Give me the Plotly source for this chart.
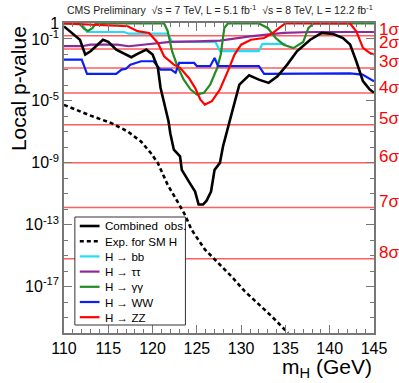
import numpy as np
import plotly.graph_objects as go

# local p-values, stored as log10(p)
mass_obs = [110, 110.9, 111.8, 112.4, 113.0, 114.4, 115.0, 115.9, 117.6, 118.3, 119.3, 120.0, 120.6, 120.9,
            121.4, 121.8, 122.0, 122.4, 123.1, 123.3, 124.05, 124.8, 125.2, 125.7, 126.1, 126.6, 127.0, 127.6,
            127.95, 128.7, 129.1, 129.8, 130.9, 132.0, 133.1, 134.1, 135.2, 136.3, 137.8, 139.1, 140.4, 141.5,
            142.3, 143.0, 143.75, 144.5, 145]
logp_obs = [-0.19, -0.61, -1.05, -2.01, -1.8, -1.05, -1.19, -1.69, -2.18, -1.96, -1.69, -2.01, -2.87, -4.15,
            -5.45, -6.32, -7.09, -8.16, -8.59, -9.46, -10.17, -10.86, -11.7, -11.7, -11.45, -10.86, -9.46, -9.01,
            -7.95, -6.23, -5.45, -3.95, -3.35, -3.63, -3.84, -3.41, -2.66, -1.8, -1.05, -0.61, -0.68, -0.94,
            -1.36, -2.44, -3.73, -4.26, -4.48]

mass_exp = [110, 112.75, 115.35, 117.2, 118.7, 119.8, 120.6, 121.7, 122.8, 123.6, 124.4, 125.9, 127.4, 128.9,
            130.4, 131.85, 133.5, 135.3]
logp_exp = [-5.26, -5.9, -6.44, -6.98, -7.63, -8.37, -9.02, -10.42, -11.5, -12.3, -13.32, -14.6, -15.47, -16.34,
            -17.3, -18.05, -18.95, -20.0]

mass_bb = [110, 112.0, 112.6, 116.8, 117.3, 121.7, 122.2, 127.1, 127.6, 132.0, 132.4, 135.0]
logp_bb = [0, 0, -0.55, -0.55, -0.66, -0.66, -1.19, -1.19, -1.79, -1.79, -1.32, -1.32]

mass_tt = [110, 112, 113, 116, 117.3, 120.2, 122, 125, 127.6, 131, 134.8, 138, 145]
logp_tt = [-1.47, -1.47, -1.37, -1.37, -1.47, -1.32, -1.19, -1.16, -1.11, -0.83, -0.61, -0.55, -0.55]

mass_gg = [110, 111.7, 112.3, 112.7, 113.2, 113.6, 121.3, 121.7, 122.2, 122.8, 123.5, 124.3, 125.0, 125.8,
           126.5, 127.3, 127.7, 128.1, 128.5, 132.0, 133.0, 133.9, 134.8, 135.9, 137.0, 137.6, 138.2, 145]
logp_gg = [0, 0, -0.35, -0.48, -0.3, 0, 0, -0.48, -1.79, -2.76, -3.62, -4.27, -4.59, -4.48,
           -3.95, -2.87, -2.01, -0.29, 0, 0, -0.29, -0.94, -1.37, -1.59, -1.2, -0.29, 0, 0]

mass_ww = [110, 112.0, 112.6, 115.9, 116.5, 117.0, 117.5, 118.7, 120.1, 120.9, 122.1, 122.6, 123.0, 124.7,
           125.0, 126.5, 127.0, 127.4, 132.0, 132.6, 142.3, 143.7, 145]
logp_ww = [-2.34, -2.34, -3.26, -3.26, -2.98, -2.93, -2.66, -2.44, -2.44, -2.98, -2.98, -3.19, -2.55, -2.55,
           -2.76, -2.76, -2.23, -2.76, -2.76, -3.26, -3.22, -3.3, -3.73]

mass_zz = [110, 117.2, 118.3, 119.6, 120.6, 121.3, 122.4, 123.1, 124.1, 124.8, 125.4, 125.9, 126.7, 127.6,
           128.5, 129.25, 130.0, 131.1, 132.6, 133.6, 134.3, 135.0, 142.3, 143.0, 143.75, 144.5, 145]
logp_zz = [0, -0.18, -0.5, -0.61, -1.26, -2.12, -2.66, -2.87, -3.52, -4.16, -4.92, -5.24, -5.02, -4.27,
           -3.08, -2.01, -1.37, -1.05, -0.94, -0.61, -0.29, 0, 0, -0.5, -1.58, -1.9, -2.01]

sigma_labels = ["1σ", "2σ", "3σ", "4σ", "5σ", "6σ", "7σ", "8σ"]
sigma_pvals = [1.587e-1, 2.275e-2, 1.350e-3, 3.167e-5, 2.867e-7, 9.866e-10, 1.280e-12, 6.221e-16]

ytick_vals = [1, 1e-1, 1e-5, 1e-9, 1e-13, 1e-17]
ytick_text = ["1", "10<sup>-1</sup>", "10<sup>-5</sup>", "10<sup>-9</sup>", "10<sup>-13</sup>", "10<sup>-17</sup>"]

font = "Liberation Sans, Arial, sans-serif"
W, H = 399, 383
ML, MR, MT, MB = 64, 21, 23, 50


def px(xp):  # pixel -> paper x
    return (xp - ML) / (W - ML - MR)


def py(yp):  # pixel -> paper y
    return 1 - (yp - MT) / (H - MT - MB)


fig = go.Figure()

# (name, x, log10 p, colour, width, dash)
series = [
    ("H → bb", mass_bb, logp_bb, "#22ddf5", 2.2, None),
    ("H → ττ", mass_tt, logp_tt, "#8e2a98", 2.2, None),
    ("H → γγ", mass_gg, logp_gg, "#228b22", 2.2, None),
    ("H → WW", mass_ww, logp_ww, "#0a1ef5", 2.2, None),
    ("H → ZZ", mass_zz, logp_zz, "#ff0000", 2.2, None),
    ("Exp. for SM H", mass_exp, logp_exp, "black", 2.6, "4px,3px"),
    ("Combined  obs.", mass_obs, logp_obs, "black", 2.6, None),
]
for nm, mx, ly, col, w, d in series:
    fig.add_trace(go.Scatter(x=mx, y=10 ** np.array(ly), mode="lines", name=nm, showlegend=False,
                             line=dict(color=col, width=w, dash=d)))

# sigma reference lines
for lab, p in zip(sigma_labels, sigma_pvals):
    fig.add_shape(type="line", xref="x", yref="y", x0=110, x1=145, y0=p, y1=p,
                  line=dict(color="rgba(255,40,40,0.75)", width=1.5), layer="below")
    fig.add_annotation(xref="paper", yref="y", x=1.0, y=np.log10(p), text=lab, showarrow=False,
                       xanchor="left", yanchor="middle", xshift=3, yshift=6,
                       font=dict(family=font, size=17, color="#ff0000"))

# legend box drawn by hand (ROOT style, tighter than plotly's)
fig.add_shape(type="rect", xref="paper", yref="paper", x0=px(75), x1=px(187), y0=py(217), y1=py(325),
              line=dict(color="#333", width=1), fillcolor="white", layer="above")
leg_order = [6, 5, 0, 1, 2, 3, 4]
for k, idx in enumerate(leg_order):
    nm, _, _, col, w, d = series[idx]
    yy = py(226 + k * 15.2)
    fig.add_shape(type="line", xref="paper", yref="paper", x0=px(80), x1=px(100), y0=yy, y1=yy,
                  line=dict(color=col, width=w, dash=d), layer="above")
    fig.add_annotation(xref="paper", yref="paper", x=px(103), y=yy, text=nm, showarrow=False,
                       xanchor="left", yanchor="middle", font=dict(family=font, size=11.6, color="black"))

fig.add_annotation(xref="paper", yref="paper", x=px(65), y=py(10), xanchor="left", yanchor="middle",
                   text="CMS Preliminary  √s = 7 TeV, L = 5.1 fb<sup>-1</sup>  √s = 8 TeV, L = 12.2 fb<sup>-1</sup>",
                   showarrow=False, font=dict(family=font, size=10.5, color="#222"))
fig.add_annotation(xref="paper", yref="paper", x=px(18), y=py(24), xanchor="center", yanchor="top",
                   text="Local p-value", textangle=-90, showarrow=False,
                   font=dict(family=font, size=21, color="black"))
fig.add_annotation(xref="paper", yref="paper", x=1.0, y=py(368), xanchor="right", yanchor="middle",
                   text="m<sub>H</sub> (GeV)", showarrow=False,
                   font=dict(family=font, size=21, color="black"))

fig.update_xaxes(range=[110, 145], tickmode="linear", tick0=110, dtick=5, ticks="inside", ticklen=8,
                 tickcolor="#777", showline=True, linecolor="#777", linewidth=1.5, mirror="ticks",
                 showgrid=False, zeroline=False, tickfont=dict(family=font, size=16, color="black"),
                 minor=dict(dtick=1, ticks="inside", ticklen=4, tickcolor="#777", showgrid=False))
fig.update_yaxes(type="log", range=[-20, 0.03], tickmode="array", tickvals=ytick_vals, ticktext=ytick_text,
                 ticks="inside", ticklen=8, tickcolor="#777", showline=True, linecolor="#777", linewidth=1.5,
                 mirror="ticks", showgrid=False, zeroline=False,
                 tickfont=dict(family=font, size=16, color="black"),
                 minor=dict(tickmode="array", tickvals=[10.0 ** -k for k in range(0, 21)], ticks="inside",
                            ticklen=4, tickcolor="#777", showgrid=False))

fig.update_layout(
    width=W, height=H,
    margin=dict(l=ML, r=MR, t=MT, b=MB),
    paper_bgcolor="white", plot_bgcolor="white",
    font=dict(family=font),
    showlegend=False,
)

# page body has a default 8px margin; remove it so the figure sits at the window corner
fig.write_html("out.html", config={"displayModeBar": False},
               post_script="document.body.style.margin='0';")
